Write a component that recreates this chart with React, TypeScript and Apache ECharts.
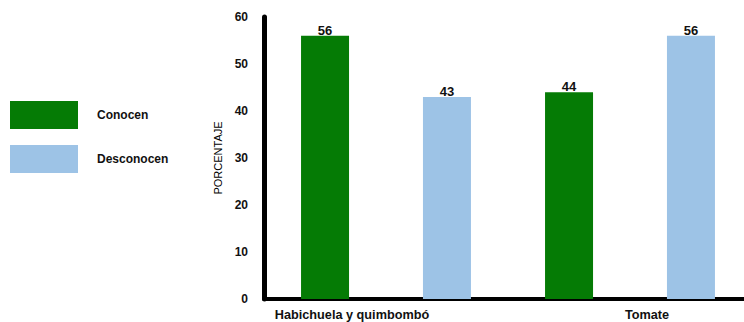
import React, { useEffect, useRef } from "react";
import * as echarts from "echarts";

const categories = ["Habichuela y quimbombó", "Tomate"];
const conocen = [56, 44];
const desconocen = [43, 56];
const yTicks = { min: 0, max: 60, interval: 10 };

const GREEN = "#057b05";
const BLUE = "#9dc3e6";
const FONT = "Liberation Sans, Arial, sans-serif";

export default function App() {
  const ref = useRef<HTMLDivElement>(null);

  useEffect(() => {
    if (!ref.current) return;
    const chart = echarts.init(ref.current, undefined, { renderer: "svg" });
    const barLabel = {
      show: true,
      position: "top" as const,
      distance: -1,
      color: "#111",
      fontWeight: "bold" as const,
      fontSize: 13,
      fontFamily: FONT,
    };
    chart.setOption({
      animation: false,
      backgroundColor: "#ffffff",
      textStyle: { fontFamily: FONT },
      legend: {
        orient: "vertical",
        left: 10,
        top: 101,
        padding: 0,
        itemWidth: 68,
        itemHeight: 28,
        itemGap: 16,
        icon: "rect",
        textStyle: {
          fontFamily: FONT,
          fontWeight: "bold",
          fontSize: 12,
          color: "#111",
          padding: [0, 0, 0, 14],
        },
        data: ["Conocen", "Desconocen"],
      },
      grid: { left: 264, right: 8, top: 17, bottom: 23, containLabel: false },
      xAxis: {
        type: "category",
        data: categories,
        axisLine: { lineStyle: { color: "#000", width: 4 } },
        axisTick: { show: false },
        axisLabel: {
          margin: 9,
          formatter: (v: string) => (v === categories[0] ? `{a|${v}}` : `{b|${v}}`),
          rich: {
            a: {
              fontFamily: FONT,
              fontWeight: "bold",
              fontSize: 12.7,
              color: "#111",
              padding: [0, 68, 0, 0],
            },
            b: {
              fontFamily: FONT,
              fontWeight: "bold",
              fontSize: 12.7,
              color: "#111",
              padding: [0, 0, 0, 34],
            },
          },
        },
      },
      yAxis: {
        type: "value",
        min: yTicks.min,
        max: yTicks.max,
        interval: yTicks.interval,
        name: "PORCENTAJE",
        nameLocation: "middle",
        nameGap: 41,
        nameTextStyle: { fontFamily: FONT, fontSize: 11, color: "#000" },
        axisLine: { show: true, lineStyle: { color: "#000", width: 5 } },
        axisTick: { show: false },
        splitLine: { show: false },
        axisLabel: {
          margin: 16,
          fontFamily: FONT,
          fontWeight: "bold",
          fontSize: 12,
          color: "#111",
        },
      },
      series: [
        {
          name: "Conocen",
          type: "bar",
          data: conocen,
          barWidth: 48,
          barGap: "154%",
          itemStyle: { color: GREEN },
          label: barLabel,
        },
        {
          name: "Desconocen",
          type: "bar",
          data: desconocen,
          barWidth: 48,
          itemStyle: { color: BLUE },
          label: barLabel,
        },
      ],
    });
    return () => chart.dispose();
  }, []);

  return (
    <div
      style={{
        position: "fixed",
        left: 0,
        top: 0,
        width: 744,
        height: 322,
        overflow: "hidden",
        background: "#ffffff",
      }}
    >
      <div ref={ref} style={{ width: 760, height: 322 }} />
    </div>
  );
}
